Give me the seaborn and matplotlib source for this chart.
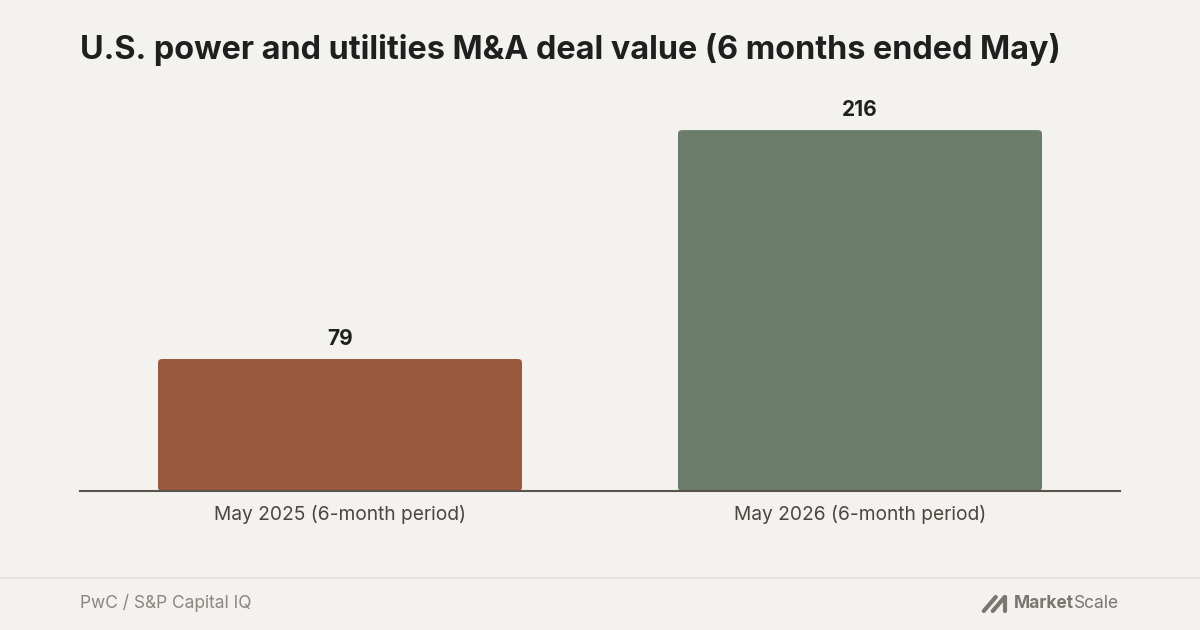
import matplotlib
matplotlib.use("Agg")
import matplotlib.pyplot as plt
import seaborn as sns
import pandas as pd
from matplotlib.patches import FancyBboxPatch
from matplotlib.lines import Line2D

categories = ["May 2025 (6-month period)", "May 2026 (6-month period)"]
values = [79, 216]
value_labels = ["79", "216"]
bar_colors = ["#9A5A3D", "#6B7C6A"]
title = "U.S. power and utilities M&A deal value (6 months ended May)"
source = "PwC / S&P Capital IQ"

BG = "#F3F2EE"
sns.set_theme(style="white")
plt.rcParams["font.family"] = ["Inter", "DejaVu Sans"]

fig = plt.figure(figsize=(12, 6.3), dpi=100, facecolor=BG)
ax = fig.add_axes([80/1200, 1-491/630, 1040/1200, (491-90)/630])
ax.set_facecolor(BG)

df = pd.DataFrame({"period": categories, "value": values})
sns.barplot(data=df, x="period", y="value", hue="period", palette=bar_colors,
            width=0.7, legend=False, ax=ax, saturation=1)
ax.set_xlim(-0.5, 1.5)
ax.set_ylim(0, 240)

# rounded bars
px_x = 1040 / 2.0
px_y = (491 - 90) / 240.0
aspect = px_x / px_y
r = 4.0 / px_x
for p in list(ax.patches):
    x, y = p.get_x(), p.get_y()
    w, h = p.get_width(), p.get_height()
    fc = p.get_facecolor()
    p.set_visible(False)
    fb = FancyBboxPatch((x, y), w, h, boxstyle=f"round,pad=0,rounding_size={r}",
                        mutation_aspect=aspect, facecolor=fc, edgecolor="none", zorder=2)
    ax.add_patch(fb)

for i, (v, lab) in enumerate(zip(values, value_labels)):
    ax.annotate(lab, (i, v), xytext=(0, 7), textcoords="offset points",
                ha="center", va="bottom", fontsize=15, fontweight="bold", color="#1F1F1F")

sns.despine(ax=ax, left=True, top=True, right=True)
ax.spines["bottom"].set_color("#5A544C")
ax.spines["bottom"].set_linewidth(1.5)
ax.spines["bottom"].set_zorder(3)
ax.set_yticks([])
ax.set_xlabel("")
ax.set_ylabel("")
ax.tick_params(axis="x", length=0, pad=10, labelsize=13.8, labelcolor="#4A4640")

fig.text(80/1200, 1-49/630, title, fontsize=23.3, fontweight="bold", color="#1F1F1F",
         ha="left", va="center")

fig.add_artist(Line2D([0, 1], [1-578/630, 1-578/630], color="#E4E2DD", linewidth=1.5))
fig.text(80/1200, 1-603/630, source, fontsize=12.5, color="#8A8680", ha="left", va="center")
fig.text(1119/1200, 1-604/630, "Market", fontsize=12.5, color="#7A7670", ha="right", va="center",
         fontweight="bold")
t2 = fig.text(1119/1200, 1-604/630, "Scale", fontsize=12.5, color="#7A7670", ha="right", va="center")

# place "Market" left of "Scale"
fig.canvas.draw()
renderer = fig.canvas.get_renderer()
bb = t2.get_window_extent(renderer)
for t in fig.texts:
    if t.get_text() == "Market":
        t.set_position((bb.x0 / 1200, 1-604/630))
        bm = t.get_window_extent(renderer)
        x1 = bm.x0 - 4
        yb = 630 - 611
        yt = 630 - 597
        for dx in (0, 9):
            fig.add_artist(Line2D([(x1 - 26 + dx)/1200, (x1 - 14 + dx)/1200],
                                  [yb/630, yt/630], color="#7A7670", linewidth=3))
        fig.add_artist(Line2D([(x1-14+9)/1200, (x1-5)/1200], [yt/630, yb/630],
                              color="#7A7670", linewidth=3))

fig.savefig("out.png", dpi=100, facecolor=BG)
